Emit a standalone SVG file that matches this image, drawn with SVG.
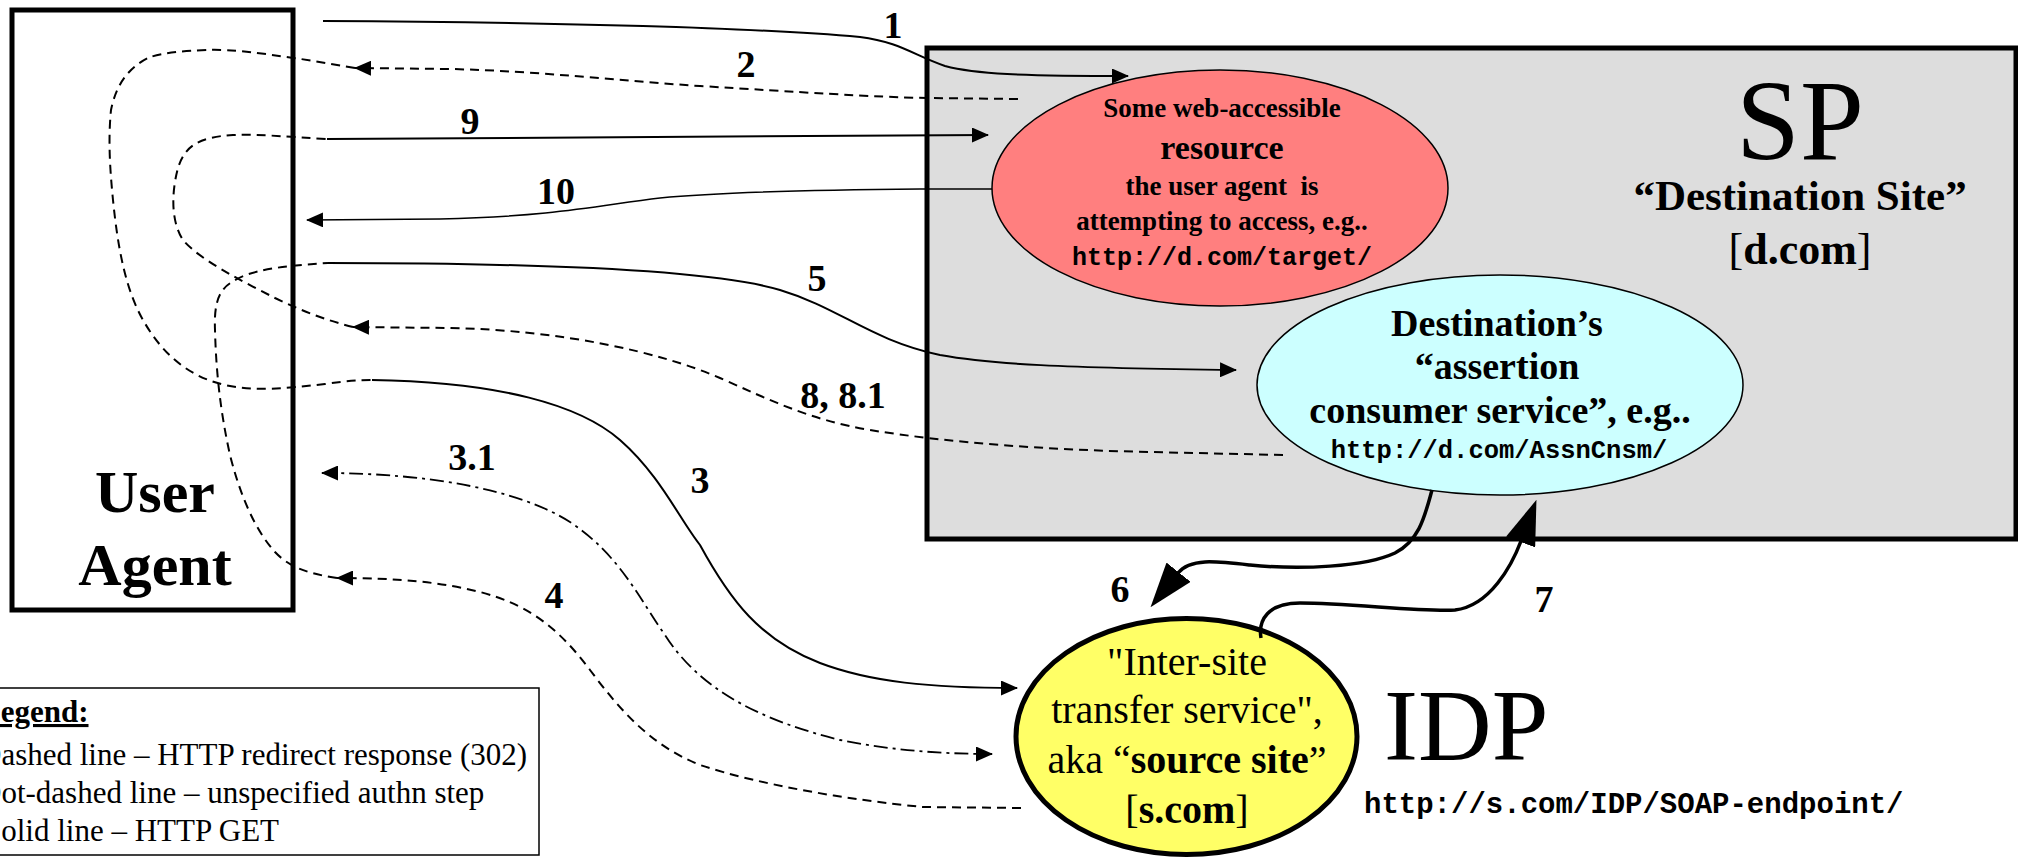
<svg xmlns="http://www.w3.org/2000/svg" width="2018" height="857" viewBox="0 0 2018 857">
<defs>
<style>
.serif{font-family:"Liberation Serif","Times New Roman",serif}
.b{font-weight:bold}
.mono{font-family:"Liberation Mono","Courier New",monospace;font-weight:bold}
.lbl{font-family:"Liberation Serif","Times New Roman",serif;font-weight:bold;font-size:38px;text-anchor:middle}
.mid{text-anchor:middle}
.c{fill:none;stroke:#000}
.solid{stroke-width:2}
.dash{stroke-width:2;stroke-dasharray:9 6}
.dd{stroke-width:1.8;stroke-dasharray:14 5 3 5}
.thick{stroke-width:3.5}
</style>
<marker id="ah" markerUnits="userSpaceOnUse" markerWidth="17" markerHeight="15" viewBox="0 0 17 15" refX="16" refY="7.5" orient="auto"><path d="M0,0 L17,7.5 L0,15z" fill="#000"/></marker>
<marker id="ahs" markerUnits="userSpaceOnUse" markerWidth="17" markerHeight="15" viewBox="0 0 17 15" refX="16" refY="7.5" orient="auto-start-reverse"><path d="M0,0 L17,7.5 L0,15z" fill="#000"/></marker>
<marker id="big" markerUnits="userSpaceOnUse" markerWidth="45" markerHeight="31" viewBox="0 0 45 31" refX="1" refY="15.5" orient="auto"><path d="M0,0 L45,15.5 L0,31z" fill="#000"/></marker>
</defs>
<rect x="0" y="0" width="2018" height="857" fill="#fff"/>

<g id="sp">
<rect x="927" y="48" width="1089" height="491" fill="#dddddd" stroke="#000" stroke-width="5"/>
<text class="serif mid" x="1800" y="159" font-size="115">SP</text>
<text class="serif b mid" x="1800" y="210" font-size="43">“Destination Site”</text>
<text class="serif mid" x="1800" y="264" font-size="44">[<tspan class="b">d.com</tspan>]</text>
</g>

<g id="resource">
<ellipse cx="1220" cy="188" rx="228" ry="118" fill="#ff7f7f" stroke="#000" stroke-width="1.5"/>
<text class="serif b mid" x="1222" y="117" font-size="27">Some web-accessible</text>
<text class="serif b mid" x="1222" y="159" font-size="34">resource</text>
<text class="serif b mid" x="1222" y="195" font-size="27" xml:space="preserve">the user agent  is</text>
<text class="serif b mid" x="1222" y="230" font-size="27">attempting to access, e.g..</text>
<text class="mono mid" x="1222" y="265" font-size="25">http://d.com/target/</text>
</g>

<g id="acs">
<ellipse cx="1500" cy="385" rx="243" ry="110" fill="#ccffff" stroke="#000" stroke-width="1.5"/>
<text class="serif b mid" x="1497" y="336" font-size="38">Destination’s</text>
<text class="serif b mid" x="1497" y="379" font-size="38">“assertion</text>
<text class="serif b mid" x="1500" y="423" font-size="38">consumer service”, e.g..</text>
<text class="mono mid" x="1499" y="458" font-size="25.5">http://d.com/AssnCnsm/</text>
</g>

<g id="idp">
<ellipse cx="1186.5" cy="736.5" rx="170.5" ry="118" fill="#ffff66" stroke="#000" stroke-width="5"/>
<text class="serif mid" x="1187" y="675" font-size="40">"Inter-site</text>
<text class="serif mid" x="1187" y="723" font-size="40">transfer service",</text>
<text class="serif mid" x="1187" y="773" font-size="40">aka “<tspan class="b">source site</tspan>”</text>
<text class="serif mid" x="1187" y="823" font-size="40">[<tspan class="b">s.com</tspan>]</text>
<text class="serif" x="1384" y="760" font-size="102">IDP</text>
<text class="mono" x="1364" y="813" font-size="29">http://s.com/IDP/SOAP-endpoint/</text>
</g>

<g id="user-agent">
<rect x="12" y="10" width="281" height="600" fill="none" stroke="#000" stroke-width="5"/>
<text class="serif b mid" x="155" y="512" font-size="60">User</text>
<text class="serif b mid" x="155" y="585" font-size="60">Agent</text>
</g>

<g id="legend">
<rect x="-10" y="688" width="549" height="167" fill="#fff" stroke="#000" stroke-width="1.5"/>
<text class="serif b" x="-20" y="722" font-size="31" text-decoration="underline">Legend:</text>
<text class="serif" x="-21" y="765" font-size="31">Dashed line – HTTP redirect response (302)</text>
<text class="serif" x="-21" y="803" font-size="31">Dot-dashed line – unspecified authn step</text>
<text class="serif" x="-16" y="841" font-size="31">Solid line – HTTP GET</text>
</g>

<g id="connectors">
<path class="c solid" marker-end="url(#ah)" d="M323,21 C560,22 760,28 860,37 C900,42 915,56 945,66 C975,74 1020,76 1128,76"/>
<path class="c dash" marker-end="url(#ah)" d="M1018,99 L927,98 C870,97 800,92 700,86 C620,81 540,71 450,69 L355,68"/>
<path class="c dash" d="M355,68 C330,64 310,60 293,58 C260,53 230,49 207,50 C180,51 160,53 148,58 C128,68 116,85 111,110 C108,140 110,170 113,200 C118,250 126,290 143,320 C160,350 185,376 225,385 C255,392 290,388 325,384 C345,381 360,380 372,380"/>
<path class="c solid" marker-end="url(#ah)" d="M372,380 C500,382 580,405 620,440 C660,475 680,520 700,545 C730,600 760,640 820,663 C870,682 930,688 1017,688"/>
<path class="c dd" marker-start="url(#ahs)" marker-end="url(#ah)" d="M322,473 C430,473 520,490 570,522 C620,555 640,600 665,635 C700,690 760,720 840,740 C890,750 940,754 992,754"/>
<path class="c dash" marker-end="url(#ah)" d="M1021,808 L923,807 C850,800 760,785 700,765 C650,745 620,710 590,670 C560,630 530,605 480,592 C440,582 400,578 337,578"/>
<path class="c dash" d="M337,578 C310,574 290,568 275,552 C255,530 240,495 230,455 C220,410 216,370 215,330 C214,305 218,290 232,282 C250,270 280,266 328,263"/>
<path class="c solid" marker-end="url(#ah)" d="M328,263 C560,263 720,272 780,290 C840,308 870,340 940,355 C990,364 1060,368 1236,370"/>
<path class="c thick" marker-end="url(#big)" d="M1432,490 C1425,515 1420,540 1395,553 C1365,567 1300,570 1250,565 C1215,561 1190,558 1178,573"/>
<path class="c thick" marker-end="url(#big)" d="M1261,638 C1258,620 1268,603 1300,603 C1350,603 1420,612 1455,610 C1490,606 1512,565 1521,541"/>
<path class="c dash" marker-end="url(#ah)" d="M1283,455 L1150,452 C1050,450 950,443 870,430 C810,420 770,400 720,378 C660,352 560,330 450,328 L353,327"/>
<path class="c dash" d="M353,327 C325,320 300,310 275,298 C240,280 200,260 183,240 C170,220 172,190 178,168 C185,145 200,137 233,135 C260,134 290,137 327,139"/>
<path class="c solid" marker-end="url(#ah)" d="M327,139 L988,135"/>
<path class="c" stroke-width="1.5" marker-end="url(#ah)" d="M992,189 L920,189 C800,190 720,192 660,198 C600,205 560,216 440,219 L307,220"/>
</g>

<g id="labels">
<text class="lbl" x="893" y="38">1</text>
<text class="lbl" x="746" y="77">2</text>
<text class="lbl" x="470" y="134">9</text>
<text class="lbl" x="556" y="204">10</text>
<text class="lbl" x="817" y="291">5</text>
<text class="lbl" x="843" y="408">8, 8.1</text>
<text class="lbl" x="472" y="470">3.1</text>
<text class="lbl" x="700" y="493">3</text>
<text class="lbl" x="554" y="608">4</text>
<text class="lbl" x="1120" y="602">6</text>
<text class="lbl" x="1544" y="612">7</text>
</g>
</svg>
